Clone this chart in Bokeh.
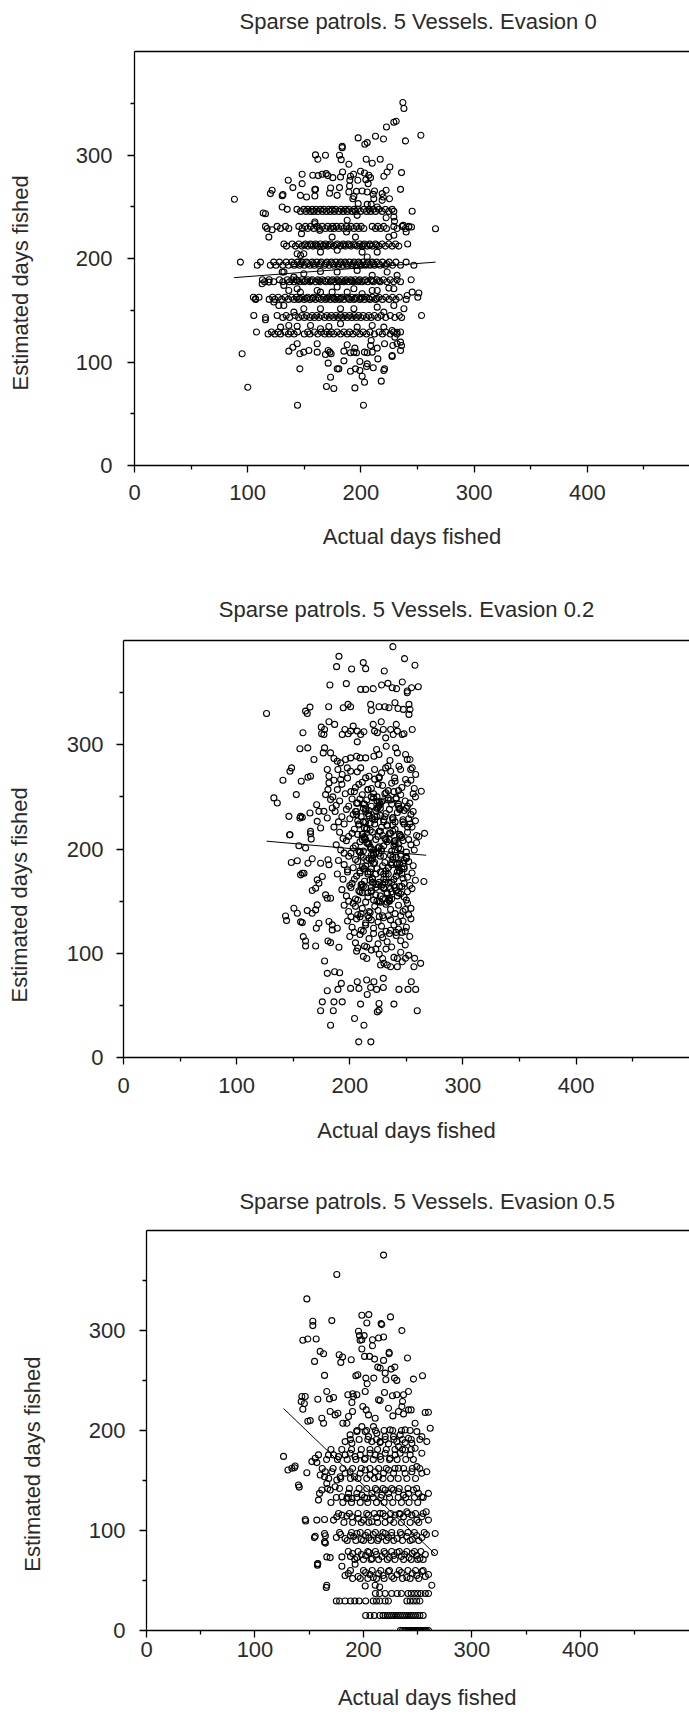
from bokeh.plotting import figure
from bokeh.models import FixedTicker, Range1d, LinearAxis
from bokeh.embed import file_html
from bokeh.resources import INLINE

# ---------------- shared texts / ticks ----------------
TITLES = ["Sparse patrols. 5 Vessels. Evasion 0",
          "Sparse patrols. 5 Vessels. Evasion 0.2",
          "Sparse patrols. 5 Vessels. Evasion 0.5"]
X_LABEL = "Actual days fished"
Y_LABEL = "Estimated days fished"
X_TICKS = [0, 100, 200, 300, 400]
X_MINOR = [50, 150, 250, 350, 450]
Y_TICKS = [0, 100, 200, 300]
Y_MINOR = [50, 150, 250, 350]

# ---------------- panel 1 : evasion 0 ----------------
p1_row_y = [247.5, 245.5, 231, 229, 214, 213, 212, 196.5, 195, 193.5, 179.5, 178.5, 177.5, 162.5, 161.5, 160.5, 145, 143, 129, 127]
p1_row_x = [
    [143.5,149.6,153.1,157,160.5,164.3,167.3,171.7,174.6,177.6,182.5,186.4,189.4,194,197.3,202.6,207,210.9,215.9,221.7,227.6],
    [146.7,151.5,155.5,158.4,162,166,169.6,173,176.5,180.5,184.3,188,192.3,195.2,199.7,205,208.5,212.9,218.8,224.7,229.1],
    [115.7,126,133.4,145.2,151.1,155.5,161.4,165.8,170.8,175,178.5,182.6,187.3,191.4,196.1,200.3,210,215,220.3,229.1,236.5,242.4],
    [117.2,129,136.3,148.1,153.1,158.4,163.5,168.7,173.2,176.1,180.5,185,189.4,193.8,198.2,202.6,212.9,217.4,222.6,232,239.4],
    [132,139.3,145.2,151.1,155.5,159.9,164.3,168.7,173.2,179.1,184.3,188.8,193.8,199.1,203.2,207.9,212.9,218.8,224.7,230.6,241.3],
    [150,156,161,167,172,178,185,190,195,202,208,214],
    [134.3,142.2,148.1,153.1,157.8,162,166.7,170.8,176.1,182,186.4,191.4,196.7,201.1,205.6,210,215.9,221.7,227.6,233.5],
    [93.6,111.3,123,128,134,139,144,148,152,157,161,165,170,174,178,182,186,190,194,198,202,206,210,214,219,225,231,240],
    [141,147,153,158,164,169,175,181,187,193,199,205,211,216,223],
    [108.4,120,125,131,136,141,146,150,155,159,163,168,172,176,180,184,188,192,196,200,204,208,212,217,222,228,235,246.8],
    [113,119,128,135,139,143,148,153,157,162,166,171,175,179,183,187,191,195,199,204,209,214,220,226,232,244.4],
    [144,151,156,163,168,174,180,186,192,198,203,210,216],
    [115,123,131,137,141,146,150,155,160,164,169,173,177,181,185,189,193,197,201,206,211,217,223,229,235],
    [105,110,122,127,133,139,143,148,153,158,162,167,171,175,179,183,188,192,196,201,205,210,216,222,228,234,250.3],
    [146,152,157,163,170,176,182,189,195,200,207,214],
    [107,119,124,130,136,141,145,150,155,160,165,169,173,177,181,185,190,194,199,203,208,213,219,225,231,240],
    [105.4,126,134,142,148,152,157,161,165,170,174,178,182,186,190,194,198,202,207,212,218,226,234,253.6],
    [115.7,131,137,145,150,155,159,163,168,172,176,180,184,188,192,196,200,205,209,215,222,230,236],
    [107.8,121,127,133,138,144,153,159,165,170,174,179,185,190,196,202,208,216,222,229,235],
    [118,124,129,136,141,150,155,162,168,172,176,182,188,193,199,205,212,219,226,232],
]
p1_x = [237.1,238,231.2,229.1,222.6,253,239.4,212.9,220,197.6,205.6,203.5,183.5,183.5,159.9,162,168.7,181.1,182.6,189.4,
        204.7,210,217.1,225.6,223.2,220.3,235.9,148.1,157.5,162.3,165.8,169.3,170.8,175.2,182,183.8,190.8,193.5,199.7,190.2,
        197.3,204.4,207,208.5,206.4,203.2,135.8,148.1,139.9,159.9,173.2,181.1,190,196.1,201.1,205.6,212,189.4,172.3,121.6,
        120.1,131.1,130.5,146.6,152,159.3,159.3,222.3,218.8,219.7,225.3,235,210.9,192.9,197.6,130.5,134.9,113.7,115.7,245.3,
        229.1,229.7,244.7,88.3,118.7,265.9,
        159.3,187.9,196.7,209.1,214.4,179,193.8,205.6,211.4,218.8,222.3,237.4,242.4,240,121.6,147.5,159.3,163.7,174.6,187.3,
        195.2,224.7,229.1,143.7,146.7,149.6,164.3,179.1,201.1,205.6,214.4,
        132,149.6,164.3,179,196.7,210,223.2,232,143.7,161.4,179,193.8,210,224.7,
        131.9,130.5,112.8,118.7,140.8,136.3,146.6,106.9,123.1,127.5,131.9,140.8,149.6,164.3,174.6,187.9,201.1,214.4,229.1,240.9,
        245.3,251.2,164.3,182,193.8,214.4,229.1,238,220.3,115.7,
        129,136.3,143.7,155.5,164.3,171.7,182,196.7,210,220.3,227.6,232,235,230,
        136.3,139.9,143.7,146.1,149.6,154,161.4,161.4,168.7,172.6,173.7,171.1,185,187.9,190.8,193.8,196.1,194.7,203.2,205.6,
        210,208.5,209.1,214.4,220.9,228.2,232,235,235.9,227.6,
        95.1,100.1,144,202.3,146.1,169.6,176.1,194.7,218,203.2,173.2,190.8,195.2,199.1,205.6,205,210.9,220.9,220.3,201.1,
        171.1,179.1,180.5,185,199.1,215,227.6]
p1_y = [350.7,344.9,332.6,331.6,327.1,319.1,313.6,318.1,315.5,316.5,312,310.4,308.4,307.1,300.1,295.9,299.7,299.7,295.5,291,
        295.9,292,295.9,288.4,283.6,279.4,283,281.4,280.4,280.1,281.4,282,280.1,278.1,278.8,283.6,279.4,281.4,284.3,275.6,
        275.6,276.2,280.4,278.1,272.3,282.6,275.6,272.3,268.5,266.8,268.1,268.5,270.1,264.9,265.2,264.3,265.2,264.3,263,265.9,
        262.7,261.7,260.7,261,259.4,260.4,266.5,265.9,262.7,259.4,257.8,266.8,262,257.8,253,249.8,247.5,243.9,243.3,245.6,
        240.1,235.9,230.4,257.2,220.7,228.8,
        235.3,236.9,241.7,252.3,249.8,261,260,252.3,257.8,256.2,239.4,232,230.4,225.6,227.8,224,233.6,227.2,220.7,225.6,
        220.7,220.7,222.4,204.6,203,204.6,206.2,207.9,206.2,201.4,206.2,
        186.9,185.3,187.5,186.9,188.5,183.7,186.9,183.7,170.8,169.1,172.4,170.8,169.1,171.4,
        174,186.9,175.6,177.2,182,169.1,167.5,161.1,157.9,154.6,154.6,148.2,151.4,167.5,167.5,167.5,165.9,169.1,170.8,164.3,
        167.5,166.6,151.4,151.4,151.4,153,154.6,151.4,148.2,140.8,
        133.7,135.3,134.6,135.3,132.1,134.3,136.9,133.7,135.3,133.7,130.5,128.8,119.2,124,
        110.5,114.3,117.6,107.9,109.5,111.1,109.5,117.6,107.2,109.5,107.9,111.1,110.5,116.6,108.9,109.5,108.9,113.4,109.5,108.9,
        109.5,115.9,120.8,113.4,117.6,115.9,117.6,111.1,115.9,106.3,
        107.9,75.6,58.2,58.2,93.4,76.3,74.4,75,81.5,80.5,85.3,91.1,93.4,91.8,98.2,95.6,94.4,93.4,91.8,86.3,
        98.9,93.4,93.4,101.1,100.5,103,105.3]
p1_fit_x = [88, 266]
p1_fit_y = [181.5, 196.5]

# ---------------- panel 2 : evasion 0.2 ----------------
p2_core_x = [186,193,198,205,211,216,222,229,234,240,246,251,257,189,201,208,219,226,237,243,254,
             185,191,196,202,206,211,215,219,224,228,232,237,241,245,249,253,258,188,199,204,209,213,221,226,234,239,243,251,256,
             187,193,197,203,207,212,216,220,223,227,230,235,238,242,247,250,254,258,190,200,205,210,214,218,225,232,240,244,252,256,
             186,191,195,199,204,208,211,215,218,222,226,229,233,236,240,244,248,251,255,259,194,202,213,220,231,238,246,253,261,
             188,192,197,201,205,209,212,216,219,223,226,230,233,237,240,243,247,250,254,257,195,203,214,221,228,235,245,252,259,
             190,195,199,203,207,210,214,217,221,224,227,231,234,238,241,245,248,252,256,198,205,212,219,229,236,243,250,
             189,194,198,202,206,209,213,216,220,223,227,230,234,237,241,244,248,251,255,258,200,211,218,225,232,239,246,253,
             193,197,201,205,209,212,216,219,223,226,230,233,237,241,244,248,251,255,199,207,214,221,228,235,243,250,
             195,199,203,207,211,214,218,222,225,229,232,236,240,243,247,251,254,201,209,216,227,234,245,252,
             198,202,206,210,214,217,221,225,228,232,236,239,243,247,250,254,204,212,219,230,241,249,
             200,205,209,213,217,221,225,229,233,237,241,245,249,253,207,215,223,235,246,
             206,212,219,226,232,239,245,252,215,229,242,
             207,231,215,243,223,211,239,219,235,227,247,213,241,209,229,221,245,217,237,225,233,
             212,236,208,244,220,228,216,248,232,240,224,214,238,210,230,246,218,226,242,222,234,
             204,238,221,249,212,230,207,244,226,216,235,209,251,223,241,214,232,206,246,219,228,211,239,248,217,
             225,234,208,243,220,229,213,237,250,205,222,242,215,231,210,247,227,236,218,245,224,233,212,240,219,
             222,230,217,238,226,213,244,219,233,209,241,227,215,236,224,211,248,229,218,240,206,232,221,245,214,
             237,225,210,243,228,216,234,223,239,212,247,230,219,235,208,226,242,217,231,220,238,227,213,244,224]
p2_core_y = [266,262,268,259,264,257,267,261,256,265,259,263,258,257,255,262,258,269,263,256,266,
             250,246,253,248,244,252,247,241,250,245,254,243,249,252,246,244,250,242,241,255,248,243,253,242,247,255,243,241,253,
             236,231,238,233,227,239,234,229,237,232,226,238,230,235,228,239,233,227,226,229,236,231,238,225,240,234,226,239,229,236,
             221,216,224,212,219,223,214,220,211,224,217,213,222,215,219,212,224,216,221,213,210,215,210,216,210,223,211,224,212,
             204,199,208,196,203,207,198,205,200,209,196,203,207,198,205,201,208,197,204,199,196,201,209,195,200,209,195,209,206,
             189,185,193,182,188,194,184,191,186,181,193,187,182,190,185,193,181,188,184,180,190,181,194,184,194,182,192,
             176,171,178,167,174,179,169,176,172,166,178,171,176,168,174,179,167,173,177,170,165,166,178,166,179,165,176,165,
             161,155,163,152,159,164,154,160,156,150,162,157,152,160,164,154,159,162,150,151,163,151,164,150,158,151,
             146,140,148,137,143,149,139,145,141,136,147,142,138,146,140,148,143,135,135,136,149,136,136,137,
             131,125,133,122,129,134,124,130,126,121,132,127,123,131,125,133,120,121,132,134,120,121,
             116,110,118,107,114,119,109,115,111,106,117,112,108,116,105,106,104,119,120,
             102,97,103,99,104,96,101,98,95,95,95,
             244,231,219,205,197,183,171,163,153,239,226,211,192,177,166,249,213,232,187,201,158,
             226,247,198,238,171,221,158,189,176,208,150,236,217,163,193,181,202,245,155,228,168,
             171,228,199,142,243,163,214,186,135,257,151,197,221,176,248,127,209,233,164,189,118,158,203,237,140,
             262,182,224,130,168,246,212,159,191,145,231,178,206,253,138,186,217,122,170,200,239,149,226,163,250,
             187,176,205,192,168,181,214,159,223,197,174,243,189,162,231,209,183,152,218,199,236,171,194,157,226,
             185,212,166,241,198,178,249,163,207,192,172,228,181,215,160,202,186,237,168,191,230,155,220,179,246]
p2_x = [238.1,190.4,248.4,211.9,214,188.3,201.6,230.5,257.6,182.4,196.9,209.6,214,220.7,228.1,233.7,237.5,241.4,246.4,250.8,
        250.8,254.6,260.5,126.4,160.9,164.8,162.4,181.3,194.2,198.4,200.7,218.4,219,225.8,231.1,234.6,239.9,242.6,247.3,252.3,
        253.2,252.3,158.6,174.8,177.7,177.1,181.6,186.6,175.1,193.3,195.7,198.6,200.7,203,206.6,209.6,212.5,206.6,220.7,221.9,
        224.3,227.8,229.6,231.7,236.1,241.1,242,246.4,247.9,255.2,238.4,155.9,162.9,168.3,177.7,176.5,183,186,188.9,191.9,
        196.3,200.7,206,209,214,221.3,223.7,225.8,232.2,240.5,242,249.3,250.8,253.2,235.5,233.7,243.4,253.8,148.5,147.1,
        140.9,157.1,163,165.3,152.7,132.9,135.9,180.1,181.6,189.5,191.9,193.3,197.8,200.7,206.6,209.6,214,217,221.9,225.8,
        228.1,231.7,236.1,239.6,244.9,249.3,255.2,258.2,146.2,155.9,158,164.8,170.7,172.7,263.2,
        147.1,156.5,165.3,171.2,177.1,178.6,180.7,181.6,183,184.5,180.1,174.2,
        146.8,165.3,165.9,155,160.9,148.3,153.6,163,166.8,158,156.5,159.5,174.2,180.7,181.6,175.7,172.7,169.8,166.8,171.2,
        178.6,180.1,183,171.2,169.8,150.6,153.6,143.2,144.1,162.4,166.8,158,156.5,170.4,172.7,181.6,184.5,188.9,184.5,158.9,
        160.9,160.9,169.8,180.7,183,190.4,177.7,180.1,186.6,191,192.5,180.1,189.5,200.7,206.6,208.1,214.9,215.4,218.4,223.7,
        229.6,229.6,221.3,243.4,251.4,258.2,254.3,239,225.8,225.8,224.3,209.5,193.3,186,175.7,174.2,185.4,204.2,212.5,183,
        259.6,230.2,227.2,233.1,236.1,242,246.4,249.3,256.7,262.6,257.3,265.5,207.9,218.6,266.1]
p2_y = [394.1,384.8,382.6,378.8,373,374.9,372.7,370.7,376.2,357.3,358.6,353.1,353.1,353.8,357.3,358.9,354.7,353.8,360.2,351.5,
        349.9,354.7,355.7,330,332.3,336.1,330,336.5,335.5,338.7,336.5,338.7,332.9,336.5,336.5,335.5,340.3,334.8,333.9,338.7,
        333.9,329.1,311.5,316.9,314.7,309.9,322,319.5,310.5,309.9,314.7,310.5,313.1,317.9,313.1,309.9,312.4,302.8,319.5,313.1,
        311.5,322,314.7,306.6,314.7,319.5,313.1,309.9,310.5,314.7,309.9,296.1,297,285.8,297,292.2,292.2,286.8,284.2,282.6,
        285.8,287.4,289,287.4,287.4,289,295.4,290.6,298.6,297,292.2,290.6,285.8,285.8,284.9,279.4,279.4,276.2,277.8,274.6,
        265.9,265,268.8,269.8,252.2,249,244.1,276.2,269.8,276.2,266.6,271.4,277.8,274.6,274,277.8,268.2,269.8,276.2,268.2,
        273,277.8,274.6,268.2,276.2,266.6,277.8,271.4,231.3,229.7,230.4,234.5,242.5,236.1,255.4,
        213.7,231.3,216.9,226.5,236.1,252.2,257,263.4,247.4,239.3,229.7,220.1,
        213.7,214.7,209.5,203.1,200.9,187.1,188.7,186.4,190.6,176.8,175.2,176.8,186.4,189.7,184.9,173.6,167.2,162.4,160.2,170.4,
        156,152.8,152.8,146.4,141.6,143.2,138.4,135.8,131.3,140.9,138.4,129.4,130.1,124,128.8,130.4,127.2,124,122.4,115.9,
        111.8,107,107,111.8,110.2,105.7,92.5,80.7,82.3,81.3,71.1,64,65.3,66.3,72.7,66.3,74.3,60.5,67.2,65.3,
        67.2,75.9,72.7,65.3,65.3,65.3,72.7,51.2,51.8,45.4,43.8,51.2,53.4,53.4,53.4,44.8,44.8,37.4,31,31,
        44.8,90.3,88.7,88.7,87.1,87.1,91.9,95.1,87.1,90.3,95.1,168.8,15,15,215]
p2_fit_x = [126.5, 267.5]
p2_fit_y = [207.5, 194]

# ---------------- panel 3 : evasion 0.5 ----------------
p3_row_y = [0, 15, 29.5, 37, 52, 60, 71, 79, 90, 98, 108, 117, 128, 133, 142, 152, 162, 171, 181, 191, 200]
p3_row_x = [
    [234,236,238,239,241,242,244,245,246,247,248,249,250,251,252,253,254,255,256,257,258,260],
    [202,206,210,215,218,220,222,224,226,228,230,232,234,236,238,240,242,244,246,248,250,252,255],
    [175,178,183,188,192,196,202,209,212,215,220,223,240,243,246,249,252],
    [211,215,220,226,231,235,241,244,247,250,253,257,260],
    [190,197,204,212,219,228,236,243,251],
    [188,200,208,216,224,233,241,248,255],
    [192,200,207,214,222,229,237,244,250,255],
    [186,195,204,211,219,226,233,240,247,253],
    [185,193,200,207,213,221,228,236,243,251],
    [178,189,197,204,211,218,226,234,241,247,256],
    [182,190,198,205,213,220,228,235,243,251],
    [177,187,195,203,210,218,225,233,241,248,255],
    [170,181,189,197,204,212,219,227,235,242,250],
    [175,186,194,201,209,216,224,232,239,247,255],
    [167,178,187,196,203,211,218,226,233,241,249],
    [168,179,188,195,203,210,218,225,232,240,248],
    [162,172,181,190,198,206,214,221,229,237,245,252],
    [166,176,185,193,201,209,216,224,231,239,246],
    [170,180,189,198,206,213,221,229,236,244],
    [188,196,204,212,220,228,236,244,252],
    [194,203,211,219,227,235,243],
]
p3_band_x = [183,186,195,202,206,209,214,218,223,226,231,235,240,245,249,254,257,260,
             188,190,194,198,202,205,208,212,217,220,224,228,231,235,238,242,245,249,252,257,
             175,179,183,188,191,194,198,202,205,209,214,217,220,223,226,231,235,240,245,249,254,258]
p3_band_y = [55,57,54,58,56,53,57,55,59,54,56,58,53,57,55,59,54,56,
             74,77,73,76,75,78,72,76,74,77,73,75,78,74,76,73,77,75,72,76,
             93,96,92,95,94,97,91,95,93,96,92,94,97,93,95,92,96,94,91,95,93,96]
p3_x = [218.5,175.4,147.8,198.5,204.9,153.3,153.3,170.8,203.1,216.3,216.9,224.9,235.4,144.1,148.7,156.4,195.4,196.3,200.6,198.5,
        196.9,208.3,213.9,218.5,208.3,160.1,163.2,154.9,177.6,180.7,179.1,188.7,198.5,201,205.6,210.2,218.5,223.7,223.7,240.6,
        228.9,225.5,215.4,213.2,220,164.1,193,194.8,202.2,203.4,209.5,220.6,228.6,230.7,246.1,254.4,259.9,143.2,146.3,142.6,
        157.9,166.2,168.7,172.4,185.6,190.2,193.9,201.6,215.4,219.4,226.7,230.7,236.9,241.5,236,144.1,150.9,161.6,163.2,169.3,
        173.9,176.4,181,186.2,189.9,189.3,190.8,199.4,202.5,204.6,210.8,213.9,223.1,227.1,232.3,235.4,236.9,241.5,243.9,247.6,
        256.9,184.7,187.7,193.9,198.5,201.6,204.6,209.2,212.3,215.4,220,224.6,227.7,230.7,233.8,238.4,241.5,244.6,249.2,253.8,
        258.4,261.5,126.3,130.4,136.5,140.8,146.7,154.8,157.6,157.6,165.7,164.9,164.9,148.7,145.5,
        166.2,157.9,166.2,169.3,180.1,180.1,192.3,263,201.6,210.8,214.9,265.5,266.1,155.5,164.1,164.1,
        146.3,157,164.1,172.4,175.4,180.1,184.7,189.3,195.4,200,204.6,207.7,212.3,215.4,220,224.6,229.2,233.8,236.9,240,
        244.6,249.2,253.8,257.8,259.9,
        158.5,159.5,161.6,166.2,169.3,173.9,180.1,184.7,186.2,189.3,193.9,198.5,203.1,207.7,212.3,216.9,220,223.1,227.7,232.3,
        236.9,241.5,246.1,250.7,253.8,259.9,
        134,137,140.1,147.8,152.4,157,160.1,164.7,164.1,170.8,175.4,178.5,183.1,187.7,191.7,197,201.6,206.1,210.8,213.9,
        218.5,223.1,227.7,232.3,238.4,244.6,249.2,253.8,258.4,
        155.5,158.5,167.8,172.4,177,183.1,187.7,192.3,197,201.6,206.1,210.8,215.4,220,224.6,229.2,233.8,238.4,243,247.6,
        253.8,183.1,189.3,207.7,215.4,223.1,238.4,232.3]
p3_y = [375.4,356,331.6,315.2,315.9,309.2,304.9,309.9,307.5,306.9,305.9,313.6,299.9,290.2,291.5,291.5,299.2,294.9,294.9,290.8,
        290.2,290.8,292.5,293.5,284.8,279.1,276.8,269.1,275.8,273.5,268.1,270.8,281.5,274.1,274.1,271.4,270.1,278.1,276.8,272.5,
        263.4,261.4,262.4,263.4,257.4,255.1,254.7,255.7,252.4,246.7,252.4,250.7,252.4,250.1,251.4,254.7,218.3,234,234,229,
        231.3,239,231.6,233,235.7,236.7,235.7,239,230,238,234.7,235.7,235.7,239,229,221.3,209.9,212.3,207.3,219,
        215.6,217.3,207.3,214,219,228,234,224,220.6,215.6,212.3,230.7,222.3,214.6,219,224,216.6,220.6,220.6,207.3,
        218,207.3,195.6,198.9,203.9,198.9,193.9,203.9,197.2,188.9,193.9,200.6,193.9,188.9,195.6,200.6,192.2,187.2,198.9,193.9,
        188.9,202.3,174.1,160.5,162.8,143.4,109.5,92.9,65.2,66.5,43.1,87.4,94.8,209.2,227,
        45.2,66.9,73.6,72.9,64.2,73.6,66.2,45.2,44.5,45.2,43.5,78,97,94.3,97,88.6,
        111,110.4,111,110.4,113.7,115.4,114.4,113.7,112,110.4,115.4,108.7,113.1,117.1,114.4,110.4,115.4,116.4,113.7,118.7,
        115.4,110.4,113.7,118.7,110.4,
        130.4,137.1,140.5,147.1,140.5,143.8,133.8,132.1,137.1,132.1,137.1,135.4,132.1,137.1,140.5,135.4,140.5,137.1,140.5,138.8,
        135.4,137.1,140.5,137.1,133.8,137.1,
        162.2,164.5,145.5,157.8,168.9,167.9,155.5,158.8,153.8,158.8,150.5,153.8,157.2,158.8,153.8,157.2,160.5,155.5,158.8,153.8,
        157.2,160.5,157.2,162.2,157.2,158.8,163.9,157.2,158.8,
        172.2,175.6,175.6,175.6,173.9,175.6,177.2,173.9,175.6,172.2,177.2,175.6,173.9,177.2,172.2,175.6,177.2,180.6,175.6,182.2,
        177.2,188.9,187.3,188.9,187.9,186.6,187.9,183.9]
p3_fit_x = [126.3, 266]
p3_fit_y = [222, 76.5]

TEXT_FONT = "Liberation Sans"
TEXT_COLOR = "#2a2a2a"
FIG_W = 689
NB = "\u00a0"


def expand(row_y, row_x, xs, ys):
    ax, ay = list(xs), list(ys)
    for yv, xl in zip(row_y, row_x):
        ax.extend(xl)
        ay.extend([yv] * len(xl))
    return ax, ay


def style_text(ax):
    ax.axis_label_text_font = TEXT_FONT
    ax.axis_label_text_font_size = "22px"
    ax.axis_label_text_font_style = "normal"
    ax.axis_label_text_color = TEXT_COLOR


def make_panel(spec, title, xs, ys, fit_x, fit_y):
    height, mbl, mbt, mbb, x_end = spec["geom"]
    p = figure(width=FIG_W, height=height, x_range=Range1d(0, x_end), y_range=Range1d(0, 400),
               output_backend="svg", toolbar_location=None,
               min_border_left=mbl, min_border_right=0, min_border_top=mbt, min_border_bottom=mbb)
    p.outline_line_color = None
    p.grid.visible = False
    p.background_fill_color = "white"
    p.border_fill_color = "white"

    for ax, ticks, minor in ((p.xaxis[0], X_TICKS, X_MINOR), (p.yaxis[0], Y_TICKS, Y_MINOR)):
        ax.ticker = FixedTicker(ticks=ticks, minor_ticks=minor)
        ax.axis_line_color = "black"
        ax.axis_line_width = 1.3
        ax.major_tick_line_color = "black"
        ax.minor_tick_line_color = "black"
        ax.major_tick_line_width = 1.3
        ax.minor_tick_line_width = 1.3
        ax.major_tick_in = 0
        ax.major_tick_out = 7
        ax.minor_tick_in = 0
        ax.minor_tick_out = 4
        ax.major_label_text_font = TEXT_FONT
        ax.major_label_text_font_size = "22px"
        ax.major_label_text_color = TEXT_COLOR
        style_text(ax)
    p.xaxis[0].major_label_standoff = spec["x_standoff"]
    p.yaxis[0].major_label_standoff = spec["y_standoff"]
    p.xaxis[0].axis_label = NB * spec["xlab_pad"] + X_LABEL
    p.xaxis[0].axis_label_standoff = spec["xlab_standoff"]
    p.yaxis[0].axis_label = Y_LABEL + NB * spec["ylab_pad"]
    p.yaxis[0].axis_label_standoff = spec["ylab_standoff"]

    # top frame line + title, carried by an upper axis without ticks
    top = LinearAxis(ticker=FixedTicker(ticks=[], minor_ticks=[]), axis_line_color="black",
                     axis_line_width=1.3, major_tick_out=0, major_tick_in=0, minor_tick_out=0,
                     minor_tick_in=0, major_label_standoff=0,
                     axis_label=NB * spec["title_pad"] + title,
                     axis_label_standoff=spec["title_standoff"])
    style_text(top)
    p.add_layout(top, "above")

    p.scatter(xs, ys, marker="circle", size=6, fill_color=None, line_color="black", line_width=1.1)
    p.line(fit_x, fit_y, line_color="black", line_width=1)
    return p


SPECS = [
    dict(geom=(575, 134, 51, 110, 490.3), x_standoff=12, y_standoff=15, xlab_pad=0, xlab_standoff=21,
         ylab_pad=8, ylab_standoff=40, title_pad=2, title_standoff=18),
    dict(geom=(590, 123, 65, 108, 500.2), x_standoff=13, y_standoff=13, xlab_pad=0, xlab_standoff=22,
         ylab_pad=15, ylab_standoff=32, title_pad=0, title_standoff=19),
    dict(geom=(550, 146, 65, 85, 500.5), x_standoff=4, y_standoff=14, xlab_pad=3, xlab_standoff=25,
         ylab_pad=11, ylab_standoff=41, title_pad=3, title_standoff=17),
]

x1, y1 = expand(p1_row_y, p1_row_x, p1_x, p1_y)
x2, y2 = expand([], [], p2_x + p2_core_x, p2_y + p2_core_y)
x3, y3 = expand(p3_row_y, p3_row_x, p3_x + p3_band_x, p3_y + p3_band_y)

f1 = make_panel(SPECS[0], TITLES[0], x1, y1, p1_fit_x, p1_fit_y)
f2 = make_panel(SPECS[1], TITLES[1], x2, y2, p2_fit_x, p2_fit_y)
f3 = make_panel(SPECS[2], TITLES[2], x3, y3, p3_fit_x, p3_fit_y)

open("out.html", "w").write(file_html([f1, f2, f3], INLINE))
